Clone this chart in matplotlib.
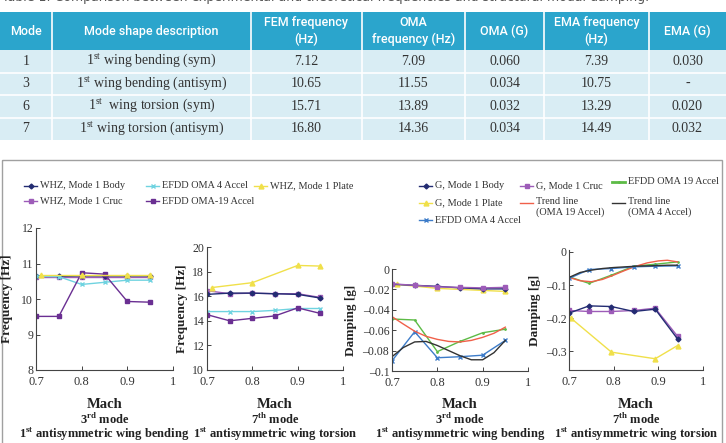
import matplotlib
matplotlib.use("Agg")
import matplotlib.pyplot as plt
from matplotlib.patches import Rectangle

plt.rcParams['font.family'] = 'serif'
plt.rcParams['font.serif'] = ['Liberation Serif', 'DejaVu Serif']
plt.rcParams['mathtext.fontset'] = 'custom'
plt.rcParams['mathtext.rm'] = 'Liberation Serif'
plt.rcParams['mathtext.bf'] = 'Liberation Serif:bold'

# ---- table data ----
col_labels = ["Mode", "Mode shape description", "FEM frequency\n(Hz)", "OMA\nfrequency (Hz)",
              "OMA (G)", "EMA frequency\n(Hz)", "EMA (G)"]
modes = ["1", "3", "6", "7"]
descriptions = [r"1$^{\rm st}$ wing bending (sym)", r"1$^{\rm st}$ wing bending (antisym)",
                r"1$^{\rm st}$  wing torsion (sym)", r"1$^{\rm st}$ wing torsion (antisym)"]
fem_freq = ["7.12", "10.65", "15.71", "16.80"]
oma_freq = ["7.09", "11.55", "13.89", "14.36"]
oma_g = ["0.060", "0.034", "0.032", "0.034"]
ema_freq = ["7.39", "10.75", "13.29", "14.49"]
ema_g = ["0.030", "-", "0.020", "0.032"]

# ---- plot data ----
mach = [0.70, 0.75, 0.80, 0.85, 0.90, 0.95]
mach_plate = [0.71, 0.80, 0.90, 0.95]

# 3rd mode frequency
f3_body = [10.65, 10.64, 10.65, 10.65, 10.65, 10.65]
f3_cruc = [10.62, 10.62, 10.62, 10.62, 10.62, 10.62]
f3_plate = [10.67, 10.67, 10.67, 10.67]
f3_oma4 = [10.64, 10.63, 10.41, 10.47, 10.53, 10.53]
f3_oma19 = [9.51, 9.51, 10.74, 10.70, 9.93, 9.91]

# 7th mode frequency
f7_body = [16.15, 16.25, 16.25, 16.2, 16.15, 15.85]
f7_cruc = [16.45, 16.2, 16.25, 16.2, 16.2, 15.9]
f7_plate = [16.7, 17.1, 18.5, 18.45]
f7_oma4 = [14.75, 14.75, 14.75, 14.85, 15.0, 15.0]
f7_oma19 = [14.5, 14.0, 14.2, 14.4, 15.05, 14.6]

# 3rd mode damping
g3_body = [-0.015, -0.016, -0.017, -0.0185, -0.0195, -0.0195]
g3_cruc = [-0.0145, -0.016, -0.0175, -0.018, -0.0185, -0.018]
g3_plate = [-0.015, -0.019, -0.021, -0.022]
g3_oma4 = [-0.090, -0.0615, -0.087, -0.086, -0.0845, -0.070]
g3_oma19 = [-0.049, -0.050, -0.081, -0.071, -0.0625, -0.059]
trend3_mach = [0.70, 0.725, 0.75, 0.775, 0.80, 0.825, 0.85, 0.875, 0.90, 0.925, 0.95]
g3_trend19 = [-0.0467, -0.054, -0.061, -0.066, -0.069, -0.071, -0.0715, -0.070, -0.067, -0.063, -0.057]
g3_trend4 = [-0.086, -0.077, -0.0715, -0.071, -0.075, -0.080, -0.085, -0.089, -0.089, -0.082, -0.070]

# 7th mode damping
mach7 = [0.70, 0.745, 0.795, 0.845, 0.893, 0.943]
mach7_plate = [0.705, 0.795, 0.893, 0.943]
g7_body = [-0.185, -0.163, -0.165, -0.180, -0.173, -0.263]
g7_cruc = [-0.177, -0.180, -0.180, -0.177, -0.170, -0.255]
g7_plate = [-0.201, -0.303, -0.323, -0.283]
g7_oma4 = [-0.080, -0.053, -0.050, -0.045, -0.043, -0.042]
g7_oma19 = [-0.075, -0.095, -0.070, -0.043, -0.037, -0.030]
trend7_mach = [0.70, 0.725, 0.75, 0.775, 0.80, 0.825, 0.85, 0.875, 0.90, 0.92, 0.943]
g7_trend19 = [-0.077, -0.087, -0.090, -0.083, -0.070, -0.056, -0.043, -0.033, -0.027, -0.025, -0.030]
g7_trend4 = [-0.077, -0.062, -0.055, -0.050, -0.047, -0.045, -0.043, -0.042, -0.041, -0.040, -0.040]

# colours / styles
st_body = dict(color='#232c72', marker='D', ms=2.5, lw=1)
st_cruc = dict(color='#9d5cb8', marker='s', ms=3, lw=1)
st_plate = dict(color='#f0e04a', marker='^', ms=3.5, lw=1)
st_cyan = dict(color='#6fd3e0', marker='x', ms=3, lw=1)
st_purple = dict(color='#6a2f92', marker='s', ms=2.5, lw=1)
st_blue = dict(color='#3d7cc9', marker='x', ms=3, lw=1)
st_green = dict(color='#5dbb46', marker='.', ms=2, lw=1)
st_red = dict(color='#f0604a', lw=1)
st_black = dict(color='#333333', lw=1)

W, H = 726, 443
fig = plt.figure(figsize=(W / 100, H / 100), dpi=100)


def box(x0, y0, x1, y1):
    return [x0 / W, 1 - y1 / H, (x1 - x0) / W, (y1 - y0) / H]


# ---- table drawn in pixel coordinates ----
bg = fig.add_axes([0, 0, 1, 1])
bg.set_xlim(0, W)
bg.set_ylim(H, 0)
bg.axis('off')
fig.text(0.003, 1 + 3 / H, "Table 1: Comparison between experimental and theoretical frequencies "
         "and structural modal damping.", family='DejaVu Sans', fontsize=9, color='#555555', va='center')

col_edges = [0, 52, 251, 362, 465, 544, 649, 726]
row_edges = [12, 50, 72.5, 95, 117.5, 140]
bg.add_patch(Rectangle((0, row_edges[0]), W, row_edges[1] - row_edges[0], color='#2ba5cc', lw=0))
bg.add_patch(Rectangle((0, row_edges[1]), W, row_edges[-1] - row_edges[1], color='#d9edf4', lw=0))
for y in row_edges[2:-1]:
    bg.plot([0, W], [y, y], color='white', lw=1.2)
for x in col_edges[1:-1]:
    bg.plot([x, x], [row_edges[0], row_edges[-1]], color='white', lw=1.2)
for i, lab in enumerate(col_labels):
    xc = (col_edges[i] + col_edges[i + 1]) / 2
    bg.text(xc, (row_edges[0] + row_edges[1]) / 2, lab, ha='center', va='center', color='white',
            family='Roboto', fontsize=9, weight='medium', linespacing=1.3)
rows = list(zip(modes, descriptions, fem_freq, oma_freq, oma_g, ema_freq, ema_g))
for r, row in enumerate(rows):
    yc = (row_edges[r + 1] + row_edges[r + 2]) / 2
    for i, val in enumerate(row):
        xc = (col_edges[i] + col_edges[i + 1]) / 2
        bg.text(xc, yc, val, ha='center', va='center', color='#333333', fontsize=10)

bg.add_patch(Rectangle((2, 160), 720, 290, fill=False, ec='#a0a0a0', lw=1))

# ---- legends, drawn entry by entry (handle start x, y, style, label) ----
legend_entries = [
    (24, 186, st_body, "WHZ, Mode 1 Body"), (24, 201, st_cruc, "WHZ, Mode 1 Cruc"),
    (146, 186, st_cyan, "EFDD OMA 4 Accel"), (146, 201, st_purple, "EFDD OMA-19 Accel"),
    (254, 186, st_plate, "WHZ, Mode 1 Plate"),
    (419, 186, st_body, "G, Mode 1 Body"), (419, 203, st_plate, "G, Mode 1 Plate"),
    (419, 220, st_blue, "EFDD OMA 4 Accel"),
    (520, 186, st_cruc, "G, Mode 1 Cruc"), (520, 203, st_red, "Trend line\n(OMA 19 Accel)"),
    (612, 182, dict(st_green, lw=2), "EFDD OMA 19 Accel"), (612, 203, st_black, "Trend line\n(OMA 4 Accel)"),
]
for x, y, st, lab in legend_entries:
    bg.plot([x, x + 13], [y, y], color=st['color'], lw=st['lw'])
    if 'marker' in st:
        bg.plot([x + 6.5], [y], color=st['color'], marker=st['marker'], ms=st['ms'])
    if '\n' in lab:
        bg.text(x + 16, y - 6, lab, ha='left', va='top', fontsize=7.4, color='#333333', linespacing=1.15)
    else:
        bg.text(x + 16, y, lab, ha='left', va='center', fontsize=7.4, color='#333333')

# ---- subplots ----
axes_px = [(36, 228, 173, 370), (207, 247, 343, 370), (392, 269, 528, 371), (569, 250, 703, 370)]
ylabel_x = [13, 188, 357, 541]
axs = [fig.add_axes(box(*p)) for p in axes_px]

a = axs[0]
a.plot(mach, f3_cruc, **st_cruc)
a.plot(mach, f3_body, **st_body)
a.plot(mach, f3_oma4, **st_cyan)
a.plot(mach, f3_oma19, **st_purple)
a.plot(mach_plate, f3_plate, **st_plate)
a.set_ylim(8, 12)
a.set_yticks([8, 9, 10, 11, 12])

a = axs[1]
a.plot(mach, f7_cruc, **st_cruc)
a.plot(mach, f7_body, **st_body)
a.plot(mach, f7_oma4, **st_cyan)
a.plot(mach, f7_oma19, **st_purple)
a.plot(mach_plate, f7_plate, **st_plate)
a.set_ylim(10, 20)
a.set_yticks([10, 12, 14, 16, 18, 20])

a = axs[2]
a.plot(mach, g3_oma19, **st_green)
a.plot(mach, g3_oma4, **st_blue)
a.plot(trend3_mach, g3_trend19, **st_red)
a.plot(trend3_mach, g3_trend4, **st_black)
a.plot(mach_plate, g3_plate, **st_plate)
a.plot(mach, g3_body, **st_body)
a.plot(mach, g3_cruc, **st_cruc)
a.set_ylim(-0.1, 0)
a.set_yticks([-0.1, -0.08, -0.06, -0.04, -0.02, 0])
a.set_yticklabels(['\u20130.1', '\u20130.08', '\u20130.06', '\u20130.04', '\u20130.02', '0'])

a = axs[3]
a.plot(mach7, g7_oma19, **st_green)
a.plot(trend7_mach, g7_trend19, **st_red)
a.plot(mach7, g7_oma4, **st_blue)
a.plot(trend7_mach, g7_trend4, **st_black)
a.plot(mach7_plate, g7_plate, **st_plate)
a.plot(mach7, g7_cruc, **st_cruc)
a.plot(mach7, g7_body, **st_body)
a.set_ylim(-0.357, 0.006)
a.set_yticks([-0.3, -0.2, -0.1, 0])
a.set_yticklabels(['\u20130.3', '\u20130.2', '\u20130.1', '0'])

ylabels = ["Frequency [Hz]", "Frequency [Hz]", "Damping [g]", "Damping [g]"]
modes_txt = [r"3$^{\mathbf{rd}}$ mode", r"7$^{\mathbf{th}}$ mode", r"3$^{\mathbf{rd}}$ mode", r"7$^{\mathbf{th}}$ mode"]
desc_txt = [r"1$^{\mathbf{st}}$ antisymmetric wing bending", r"1$^{\mathbf{st}}$ antisymmetric wing torsion",
            r"1$^{\mathbf{st}}$ antisymmetric wing bending", r"1$^{\mathbf{st}}$ antisymmetric wing torsion"]
for a, p, lx, yl, mt, dt in zip(axs, axes_px, ylabel_x, ylabels, modes_txt, desc_txt):
    a.set_xlim(0.7, 1)
    a.set_xticks([0.7, 0.8, 0.9, 1])
    a.set_xticklabels(['0.7', '0.8', '0.9', '1'])
    for s in ['top', 'right']:
        a.spines[s].set_visible(False)
    for s in ['left', 'bottom']:
        a.spines[s].set_color('#444444')
        a.spines[s].set_linewidth(0.8)
    a.tick_params(direction='in', length=3, width=0.7, colors='#444444', labelsize=9,
                  labelcolor='#333333', pad=2)
    a.tick_params(axis='x', pad=4)
    a.tick_params(axis='y', labelsize=8.5)
    a.set_ylabel(yl, fontsize=9.5, weight='bold', color='#222222')
    a.yaxis.set_label_coords((lx - p[0]) / (p[2] - p[0]), 0.5)
    xc = (p[0] + p[2]) / 2 / W
    fig.text(xc, 1 - 404 / H, "Mach", ha='center', va='center', fontsize=10.5, weight='bold', color='#222222')
    fig.text(xc, 1 - 419 / H, mt, ha='center', va='center', fontsize=9, weight='bold', color='#222222')
    fig.text(xc, 1 - 434 / H, dt, ha='center', va='center', fontsize=9, weight='bold', color='#222222')

fig.savefig("out.png", dpi=100)
